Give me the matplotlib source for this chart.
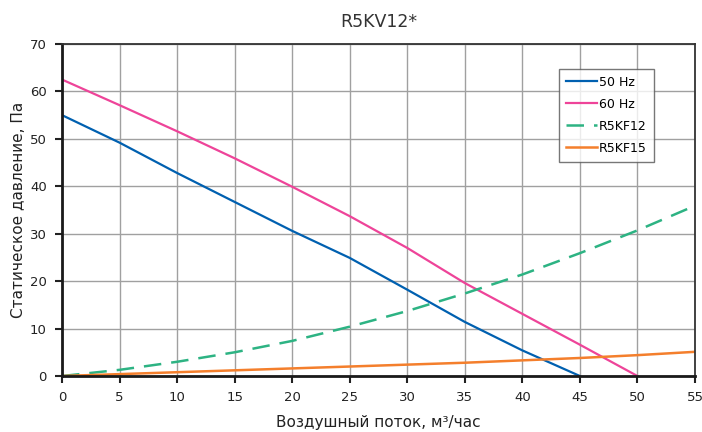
import numpy as np
import matplotlib
matplotlib.use("Agg")
import matplotlib.pyplot as plt

# data
flow_50 = [0, 5, 10, 15, 20, 25, 30, 35, 40, 45]
press_50 = [55.0, 49.2, 42.8, 36.7, 30.6, 24.9, 18.2, 11.4, 5.4, 0.0]
flow_60 = [0, 5, 10, 15, 20, 25, 30, 35, 40, 45, 50]
press_60 = [62.5, 57.1, 51.6, 45.9, 39.9, 33.7, 27.0, 19.6, 13.1, 6.6, 0.0]
flow_sys = [0, 5, 10, 15, 20, 25, 30, 35, 40, 45, 50, 55]
press_kf12 = [0.0, 1.3, 3.0, 5.0, 7.4, 10.4, 13.7, 17.4, 21.4, 25.9, 30.7, 35.9]
press_kf15 = [0.0, 0.4, 0.8, 1.2, 1.6, 2.0, 2.4, 2.8, 3.3, 3.8, 4.4, 5.1]

fig = plt.figure(figsize=(7.02, 4.32), dpi=100)
ax = fig.add_axes([0.0883, 0.1296, 0.9017, 0.7686])

ax.plot(flow_50, press_50, color="#0060b0", lw=1.6, label="50 Hz")
ax.plot(flow_60, press_60, color="#ee4499", lw=1.6, label="60 Hz")
ax.plot(flow_sys, press_kf12, color="#2db383", lw=1.8, dashes=(7, 4), label="R5KF12")
ax.plot(flow_sys, press_kf15, color="#f47f2c", lw=1.8, label="R5KF15")

ax.set_xlim(0, 55)
ax.set_ylim(0, 70)
ax.set_xticks(np.arange(0, 56, 5))
ax.set_yticks(np.arange(0, 71, 10))
ax.grid(True, color="#a0a0a0", lw=1.0)
ax.set_axisbelow(True)

for s in ["left", "bottom"]:
    ax.spines[s].set_linewidth(2.0)
    ax.spines[s].set_color("#1a1a1a")
for s in ["top", "right"]:
    ax.spines[s].set_linewidth(1.3)
    ax.spines[s].set_color("#333333")
ax.tick_params(axis="both", direction="out", length=5, width=1.5,
               labelsize=9.5, colors="#222222", pad=6)

ax.set_xlabel("Воздушный поток, м³/час", fontsize=11, color="#222222", labelpad=8)
ax.set_ylabel("Статическое давление, Па", fontsize=11, color="#222222", labelpad=3)
ax.set_title("R5KV12*", fontsize=12.5, color="#333333", pad=12)

leg = ax.legend(loc="upper left", bbox_to_anchor=(0.785, 0.925), fontsize=9,
                frameon=True, fancybox=False, edgecolor="#555555",
                handlelength=2.5, handletextpad=0.15, labelspacing=0.72,
                borderpad=0.55, borderaxespad=0)
leg.get_frame().set_linewidth(1.0)

fig.savefig("out.png", dpi=100)
